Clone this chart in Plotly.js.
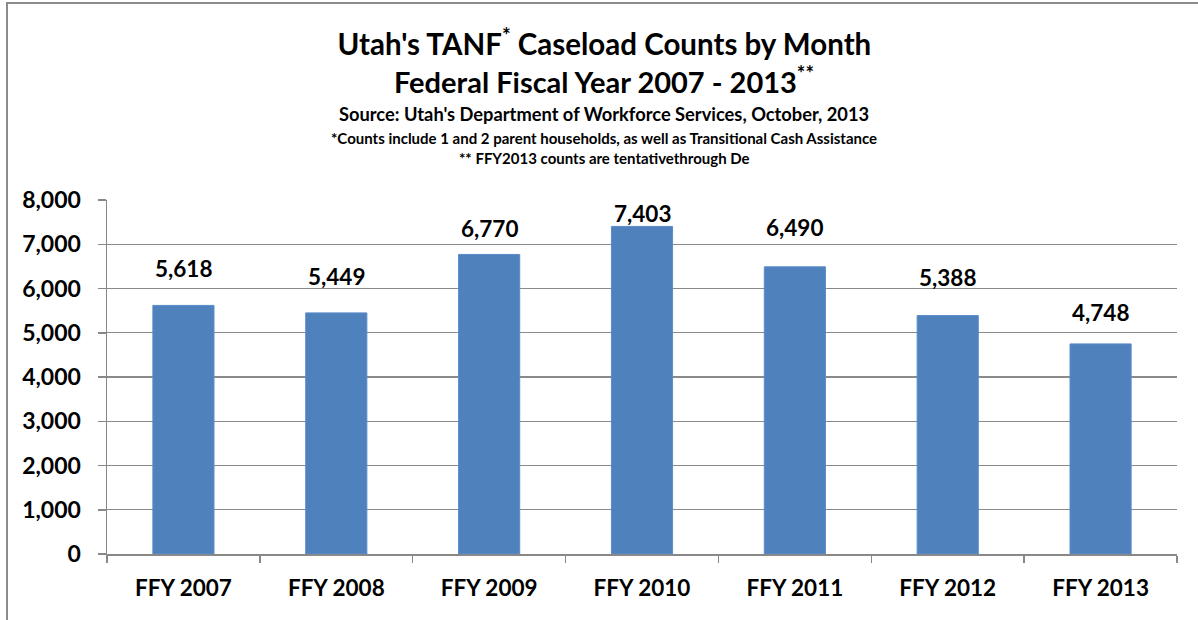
<!DOCTYPE html>
<html>
<head>
<meta charset="utf-8">
<script src="https://cdn.plot.ly/plotly-3.0.1.min.js"></script>
<style>
  html, body { margin: 0; padding: 0; background: #ffffff; }
  #wrap { position: relative; width: 1198px; height: 620px; overflow: hidden; }
  #chart { position: absolute; left: 0; top: 0; width: 1198px; height: 620px; }
  #frame { position: absolute; left: 6px; top: 2px; width: 1300px; height: 700px;
           border-left: 2px solid #8c8c8c; border-top: 2px solid #8c8c8c; pointer-events: none; }
</style>
</head>
<body>
<div id="wrap">
  <div id="chart"></div>
  <div id="frame"></div>
</div>
<script>
// ---- data ----
const categories = ["FFY 2007", "FFY 2008", "FFY 2009", "FFY 2010", "FFY 2011", "FFY 2012", "FFY 2013"];
const caseloads = [5618, 5449, 6770, 7403, 6490, 5388, 4748];
const yTickValues = [0, 1000, 2000, 3000, 4000, 5000, 6000, 7000, 8000];

// ---- styling ----
const FONT = "Lato, 'Open Sans', sans-serif";
const labelLift = [37, 36, 26, 13, 39, 38, 31]; // pixel offset of each value label above its bar
const TITLE_X = 0.4645; // paper x of the title block centre

const trace = {
  type: "bar",
  x: categories,
  y: caseloads,
  marker: { color: "#4F81BD", line: { color: "#5a8ccb", width: 1 } },
  hoverinfo: "x+y"
};

const annotations = categories.map((c, i) => ({
  x: c, y: caseloads[i], xref: "x", yref: "y",
  text: caseloads[i].toLocaleString("en-US"),
  showarrow: false, yanchor: "middle", yshift: labelLift[i],
  font: { family: FONT, size: 22.5, color: "#000000", weight: 700 }
}));

annotations.push(
  { xref: "paper", yref: "paper", x: TITLE_X, y: 1.339, xanchor: "center", yanchor: "middle",
    text: "Federal Fiscal Year 2007 - 2013<sup style=\"font-size:70%\">**</sup>", showarrow: false,
    font: { family: FONT, size: 29, color: "#000000", weight: 700 } },
  { xref: "paper", yref: "paper", x: TITLE_X, y: 1.2429, xanchor: "center", yanchor: "middle",
    text: "Source: Utah's Department of Workforce Services, October, 2013", showarrow: false,
    font: { family: FONT, size: 18.3, color: "#000000", weight: 700 } },
  { xref: "paper", yref: "paper", x: TITLE_X, y: 1.1751, xanchor: "center", yanchor: "middle",
    text: "*Counts include 1 and 2 parent households, as well as Transitional Cash Assistance", showarrow: false,
    font: { family: FONT, size: 15, color: "#000000", weight: 700 } },
  { xref: "paper", yref: "paper", x: TITLE_X, y: 1.1186, xanchor: "center", yanchor: "middle",
    text: "** FFY2013 counts are tentativethrough De", showarrow: false,
    font: { family: FONT, size: 15, color: "#000000", weight: 700 } }
);

const layout = {
  width: 1198, height: 620,
  margin: { l: 107, r: 21, t: 200, b: 66, pad: 0 },
  paper_bgcolor: "#ffffff", plot_bgcolor: "#ffffff",
  showlegend: false,
  bargap: 0.6,
  title: {
    text: "Utah's TANF<sup>*</sup> Caseload Counts by Month",
    x: 0.5045, xanchor: "center", xref: "container",
    y: 1 - 45 / 620, yanchor: "middle", yref: "container",
    font: { family: FONT, size: 29.5, color: "#000000", weight: 700 }
  },
  xaxis: {
    type: "category",
    showline: true, linecolor: "#888888", linewidth: 1.5,
    ticks: "outside", tickson: "boundaries", ticklen: 7, tickcolor: "#888888", tickwidth: 1.5,
    ticklabelstandoff: 13,
    tickfont: { family: FONT, size: 22.5, color: "#000000", weight: 700 },
    showgrid: false, zeroline: false, fixedrange: true
  },
  yaxis: {
    range: [0, 8000],
    tickvals: yTickValues,
    ticktext: yTickValues.map(v => v.toLocaleString("en-US")),
    showline: true, linecolor: "#888888", linewidth: 1.5,
    ticks: "outside", ticklen: 8, tickcolor: "#888888", tickwidth: 1.5,
    ticklabelstandoff: 12,
    showgrid: true, gridcolor: "#8a8a8a", gridwidth: 1.3,
    zeroline: false,
    tickfont: { family: FONT, size: 23, color: "#000000", weight: 700 },
    fixedrange: true
  },
  annotations: annotations
};

Plotly.newPlot("chart", [trace], layout, { displayModeBar: false, staticPlot: true });
</script>
</body>
</html>
